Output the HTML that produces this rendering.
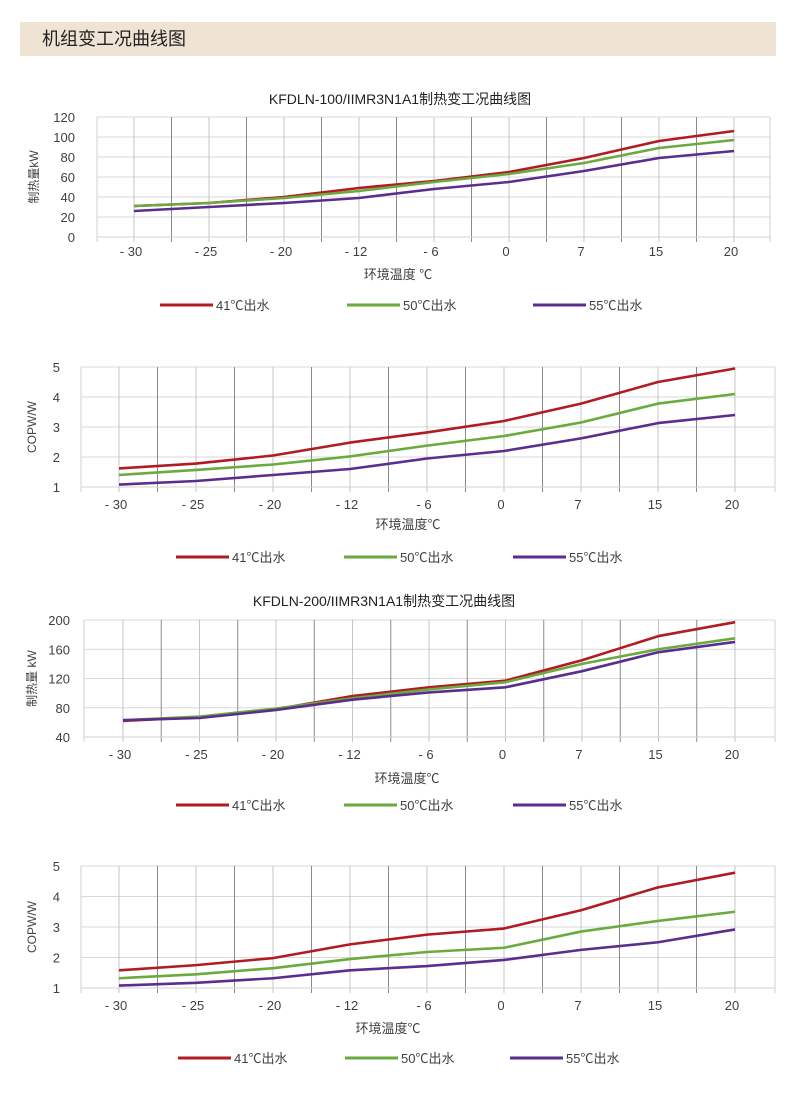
<!DOCTYPE html>
<html><head><meta charset="utf-8">
<style>
body{margin:0;background:#fff;}
svg text{font-family:"Liberation Sans","Noto Sans CJK SC",sans-serif;fill:#404040;}
</style></head>
<body>
<svg id="s" width="800" height="1096" xmlns="http://www.w3.org/2000/svg">
<rect x="20" y="22" width="756" height="34" fill="#efe3d3"/>
<text x="42" y="45" font-size="18" style="fill:#222">机组变工况曲线图</text>
</svg>
<script>
const S=document.getElementById('s');const NS='http://www.w3.org/2000/svg';
function el(t,a,txt){const e=document.createElementNS(NS,t);for(const k in a)e.setAttribute(k,a[k]);if(txt!=null)e.textContent=txt;S.appendChild(e);return e;}
const cats=['- 30','- 25','- 20','- 12','- 6','0','7','15','20'];
const cols=['#b01c22','#6aaa3e','#5b2d8e'];
const leg=['41℃出水','50℃出水','55℃出水'];
function chart(c){
 const {L,R,T,B,c0,st,min,max,ticks,data}=c;
 const y=v=>B-(v-min)/(max-min)*(B-T);
 ticks.forEach(t=>{el('line',{x1:L,x2:R,y1:y(t),y2:y(t),stroke:'#d9d9d9','stroke-width':1});
  el('text',{x:c.ylx,y:y(t)+5,'font-size':13,'text-anchor':'end'},t);});
 el('line',{x1:L,x2:L,y1:T,y2:B+5,stroke:'#d0d0d0'});
 el('line',{x1:R,x2:R,y1:T,y2:B+5,stroke:'#d0d0d0'});
 for(let i=0;i<9;i++){const x=c0+i*st;
  el('line',{x1:x,x2:x,y1:T,y2:B+5,stroke:'#c4c4c4'});
  if(i<8)el('line',{x1:x+st/2,x2:x+st/2,y1:T,y2:B+5,stroke:'#8a8a8a'});
  el('text',{x:x-3,y:c.xly,'font-size':13,'text-anchor':'middle'},cats[i]);}
 el('line',{x1:L,x2:R,y1:B,y2:B,stroke:'#d0d0d0'});
 data.forEach((d,k)=>{el('polyline',{points:d.map((v,i)=>(c0+i*st)+','+y(v)).join(' '),fill:'none',stroke:cols[k],'stroke-width':2.6,'stroke-linejoin':'round'});});
 if(c.title)el('text',{x:c.tx,y:c.ty,'font-size':14,'text-anchor':'middle',style:'fill:#222'},c.title);
 el('text',{x:c.xtx,y:c.xty,'font-size':13,'text-anchor':'middle'},c.xt);
 el('text',{transform:`translate(${c.ytx},${(T+B)/2}) rotate(-90)`,'font-size':12,'text-anchor':'middle'},c.yt);
 c.lg.forEach((lx,k)=>{el('line',{x1:lx,x2:lx+53,y1:c.lgy,y2:c.lgy,stroke:cols[k],'stroke-width':3});
  el('text',{x:lx+56,y:c.lgy+5,'font-size':13},leg[k]);});
}
chart({L:97,R:770,T:117,B:237,c0:134,st:75,min:0,max:120,ticks:[0,20,40,60,80,100,120],ylx:75,xly:256,
 data:[[31,34,40,49,56,65,79,96,106],[31,34,39,46,55,63,74,89,97],[26,30,34,39,48,55,66,79,86]],
 title:'KFDLN-100/IIMR3N1A1制热变工况曲线图',tx:400,ty:104,xt:'环境温度    ℃',xtx:398,xty:279,yt:'制热量kW',ytx:38,lgy:305,lg:[160,347,533]});
chart({L:81,R:775,T:367,B:487,c0:119,st:77,min:1,max:5,ticks:[1,2,3,4,5],ylx:60,xly:509,
 data:[[1.62,1.78,2.05,2.48,2.82,3.2,3.78,4.5,4.95],[1.4,1.57,1.75,2.02,2.38,2.7,3.15,3.78,4.1],[1.08,1.2,1.4,1.6,1.95,2.2,2.62,3.13,3.4]],
 xt:'环境温度℃',xtx:408,xty:529,yt:'COPW/W',ytx:36,lgy:557,lg:[176,344,513]});
chart({L:84,R:775,T:620,B:737,c0:123,st:76.5,min:40,max:200,ticks:[40,80,120,160,200],ylx:70,xly:759,
 data:[[62,67,78,96,108,117,145,178,197],[63,68,79,93,105,115,140,160,175],[63,66,77,91,101,108,130,156,170]],
 title:'KFDLN-200/IIMR3N1A1制热变工况曲线图',tx:384,ty:606,xt:'环境温度℃',xtx:407,xty:783,yt:'制热量 kW',ytx:36,lgy:805,lg:[176,344,513]});
chart({L:81,R:775,T:866,B:988,c0:119,st:77,min:1,max:5,ticks:[1,2,3,4,5],ylx:60,xly:1010,
 data:[[1.58,1.75,1.98,2.43,2.75,2.95,3.55,4.3,4.78],[1.32,1.45,1.65,1.95,2.18,2.32,2.85,3.2,3.5],[1.08,1.17,1.32,1.58,1.72,1.92,2.25,2.5,2.92]],
 xt:'环境温度℃',xtx:388,xty:1033,yt:'COPW/W',ytx:36,lgy:1058,lg:[178,345,510]});
</script>
</body></html>
